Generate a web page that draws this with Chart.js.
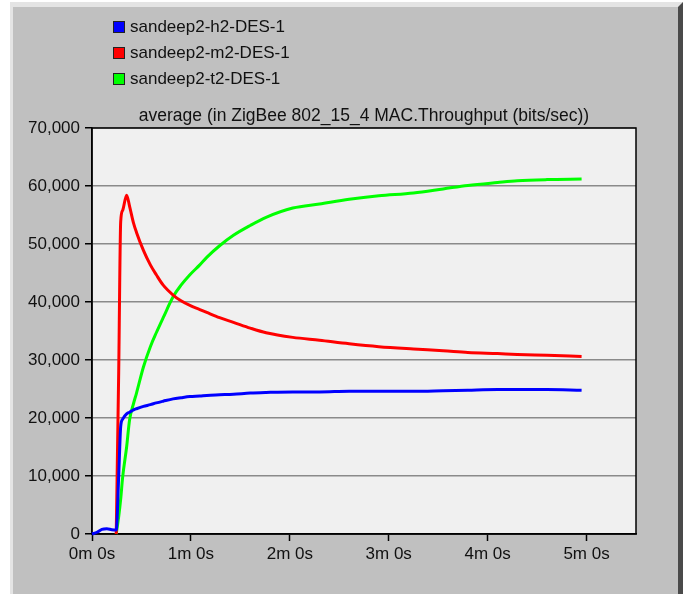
<!DOCTYPE html>
<html>
<head>
<meta charset="utf-8">
<script src="https://cdn.jsdelivr.net/npm/chart.js@4.4.0/dist/chart.umd.min.js"></script>
<style>
    html, body { margin: 0; padding: 0; background: #fff; width: 689px; height: 594px; overflow: hidden; }
    #frame {
        position: absolute; left: 10px; top: 2px; width: 673px; height: 592px; box-sizing: border-box;
        background: #c0c0c0; border-left: 3px solid #e4e4e4; border-top: 5px solid #e4e4e4; border-right: 5px solid #4a4a4a;
    }
    #chartWrap { position: absolute; left: 0; top: 0; width: 689px; height: 594px; }
    #legend { position: absolute; left: 0; top: 0; }
    .legend-item { position: absolute; left: 113px; height: 20px; white-space: nowrap; color: #111; }
    .legend-box { position: absolute; left: 0; top: 4px; width: 10px; height: 10px; border: 1px solid #222; }
    .legend-text { position: absolute; left: 17px; top: 0; line-height: 20px; }
</style>
</head>
<body>
<div id="frame"></div>
<div id="chartWrap"><canvas id="throughputChart" width="689" height="594"></canvas></div>
<div id="legend"></div>

<script>
// Time axis in minutes, shared by the three series
const timeMin = [0, 0.05, 0.1, 0.15, 0.2, 0.245, 0.27, 0.29, 0.31, 0.35, 0.38, 0.42, 0.45, 0.52, 0.59, 0.65, 0.72, 0.82, 0.9, 0.99,
    1.09, 1.16, 1.29, 1.43, 1.6, 1.76, 2.03, 2.3, 2.6, 2.9, 3.25, 3.55, 3.8, 4.1, 4.3, 4.6, 4.95];

// average MAC throughput (bits/sec); null = no sample yet
const h2Values = [0, 300, 800, 900, 750, 700, 10000, 18500, 19800, 20700, 21000, 21400, 21600, 22000, 22300, 22600, 22900, 23300, 23500, 23700,
    23800, 23900, 24000, 24100, 24300, 24400, 24500, 24500, 24600, 24600, 24600, 24700, 24800, 24900, 24900, 24900, 24800];
const m2Values = [null, null, null, null, null, 0, 28000, 53800, 55800, 58400, 56500, 53600, 52000, 48900, 46400, 44700, 42900, 41200, 40200, 39400,
    38700, 38200, 37300, 36500, 35500, 34700, 33900, 33400, 32800, 32300, 31900, 31600, 31300, 31100, 30950, 30800, 30600];
const t2Values = [null, null, null, null, null, 0, 3000, 6000, 9800, 15000, 19700, 22500, 24300, 28800, 32300, 34700, 37300, 40900, 42900, 44700,
    46400, 47700, 49700, 51500, 53200, 54600, 56200, 56900, 57700, 58300, 58800, 59500, 60100, 60600, 60900, 61100, 61200];

const seriesLabels = ['sandeep2-h2-DES-1', 'sandeep2-m2-DES-1', 'sandeep2-t2-DES-1'];
const seriesColors = ['#0000ff', '#ff0000', '#00ff00'];
const xTickLabels = ['0m 0s', '1m 0s', '2m 0s', '3m 0s', '4m 0s', '5m 0s'];
const chartTitle = 'average (in ZigBee 802_15_4 MAC.Throughput (bits/sec))';

function pickFont() {
    const c = document.createElement('canvas').getContext('2d');
    c.font = '20px monospace';
    const base = c.measureText(chartTitle).width;
    c.font = '20px "Liberation Sans Narrow", monospace';
    const narrow = c.measureText(chartTitle).width;
    if (narrow !== base) return { family: '"Liberation Sans Narrow"', tick: 20, title: 21, legend: 20 };
    return { family: '"Liberation Sans", Arial, sans-serif', tick: 17, title: 17.5, legend: 17 };
}

const plotFrame = {
    id: 'plotFrame',
    beforeDraw(chart) {
        const { ctx, chartArea: a } = chart;
        ctx.save();
        ctx.fillStyle = '#f0f0f0';
        ctx.fillRect(a.left, a.top, a.right - a.left, a.bottom - a.top);
        ctx.restore();
    },
    beforeDatasetsDraw(chart) {
        const { ctx, chartArea: a } = chart;
        ctx.save();
        ctx.strokeStyle = '#000';
        ctx.lineWidth = 1.5;
        ctx.strokeRect(a.left, a.top, a.right - a.left, a.bottom - a.top);
        ctx.restore();
    }
};

function buildLegend(font) {
    const legend = document.getElementById('legend');
    const centers = [27, 53, 79];
    legend.innerHTML = seriesLabels.map((label, i) => `
        <div class="legend-item" style="top:${centers[i] - 10}px;font-family:${font.family.replace(/"/g, "'")};font-size:${font.legend}px">
            <span class="legend-box" style="background:${seriesColors[i]}"></span>
            <span class="legend-text">${label}</span>
        </div>`).join('');
}

function createThroughputChart() {
    const ctx = document.getElementById('throughputChart');
    const font = pickFont();
    buildLegend(font);

    const series = [h2Values, m2Values, t2Values];
    const titleHeight = font.title * 1.2 + 1;

    new Chart(ctx, {
        type: 'line',
        data: {
            datasets: series.map((values, i) => ({
                label: seriesLabels[i],
                data: timeMin.map((t, j) => ({ x: t, y: values[j] })),
                borderColor: seriesColors[i],
                backgroundColor: seriesColors[i],
                borderWidth: 3,
                pointRadius: 0,
                cubicInterpolationMode: 'monotone',
                spanGaps: false,
                clip: 6
            }))
        },
        options: {
            responsive: false,
            animation: false,
            devicePixelRatio: 1,
            layout: { padding: { left: 0, right: 53, top: 128 - titleHeight, bottom: 0 } },
            plugins: {
                legend: { display: false },
                tooltip: { enabled: false },
                title: {
                    display: true,
                    text: chartTitle,
                    fullSize: false,
                    color: '#111',
                    font: { family: font.family, size: font.title, weight: 'normal' },
                    padding: { top: 0, bottom: 1 }
                }
            },
            scales: {
                x: {
                    type: 'linear',
                    min: 0,
                    max: 5.5,
                    afterFit: s => { s.height = 60; },
                    border: { display: true, color: '#000', width: 1.5 },
                    grid: { drawOnChartArea: false, drawTicks: true, tickLength: 7, tickColor: '#000', tickWidth: 1.5 },
                    ticks: {
                        stepSize: 1,
                        includeBounds: false,
                        autoSkip: false,
                        maxRotation: 0,
                        padding: 3,
                        color: '#111',
                        font: { family: font.family, size: font.tick },
                        callback: v => xTickLabels[v] ?? ''
                    }
                },
                y: {
                    min: 0,
                    max: 70000,
                    afterFit: s => { s.width = 92; },
                    border: { display: true, color: '#000', width: 1.5 },
                    grid: { color: '#8a8a8a', lineWidth: 1.5, tickColor: '#000', tickLength: 7, tickWidth: 1.5 },
                    ticks: {
                        stepSize: 10000,
                        padding: 5,
                        color: '#111',
                        font: { family: font.family, size: font.tick },
                        callback: v => v.toLocaleString('en-US')
                    }
                }
            }
        },
        plugins: [plotFrame]
    });
}

document.addEventListener('DOMContentLoaded', createThroughputChart);
</script>
</body>
</html>
